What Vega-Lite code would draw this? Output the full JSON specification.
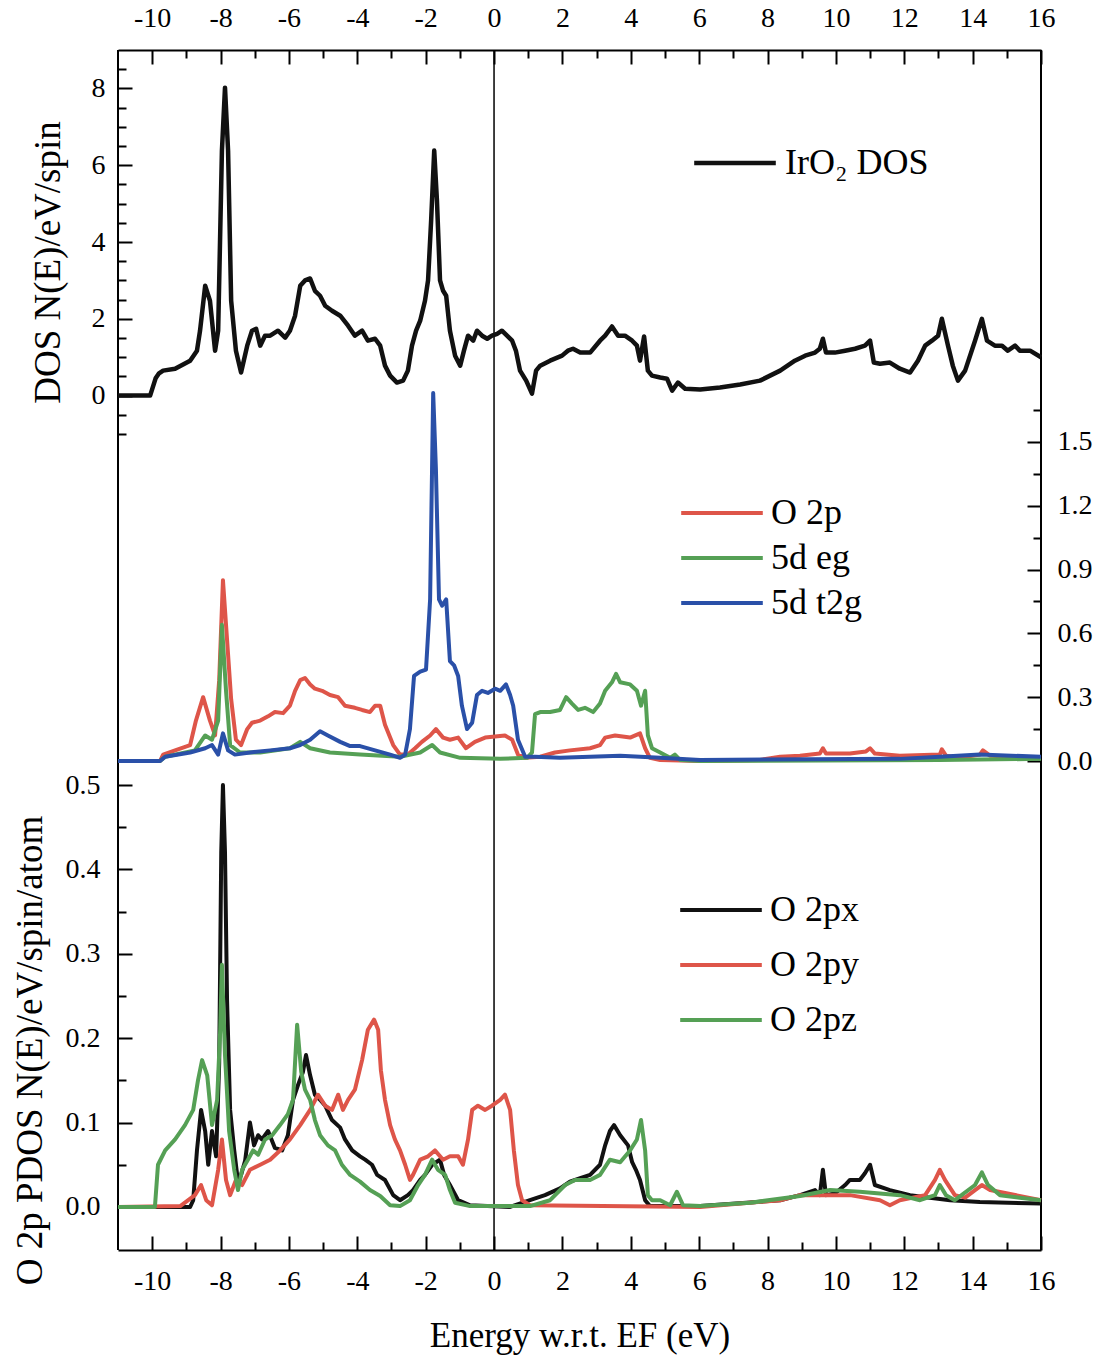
{
"$schema": "https://vega.github.io/schema/vega-lite/v6.json",
"width": 923, "height": 1200,
"autosize": "none",
"padding": {"left": 118, "top": 50, "right": 62, "bottom": 113},
"background": "white",
"config": {
  "view": {"stroke": null},
  "font": "Liberation Serif",
  "axis": {"grid": false, "domainColor": "black", "tickColor": "black", "labelColor": "black", "titleColor": "black",
    "labelFont": "Liberation Serif", "titleFont": "Liberation Serif", "titleFontWeight": "normal",
    "labelFontSize": 28, "titleFontSize": 37, "domainWidth": 2, "tickWidth": 2, "labelOverlap": false, "labelFlush": false},
  "legend": {"labelFont": "Liberation Serif", "labelFontSize": 36, "labelColor": "black", "title": null}
},
"datasets": {
"dos": [
{"E":-11,"N":0},{"E":-10.06,"N":0},{"E":-9.9,"N":0.45},{"E":-9.8,"N":0.58},{"E":-9.68,"N":0.65},{"E":-9.33,"N":0.7},{"E":-8.89,"N":0.91},{"E":-8.69,"N":1.17},{"E":-8.6,"N":1.69},{"E":-8.45,"N":2.86},{"E":-8.31,"N":2.47},{"E":-8.16,"N":1.17},{"E":-8.07,"N":1.69},{"E":-7.96,"N":6.38},{"E":-7.87,"N":8.02},{"E":-7.78,"N":6.38},{"E":-7.69,"N":2.47},{"E":-7.55,"N":1.17},{"E":-7.4,"N":0.6},{"E":-7.22,"N":1.3},{"E":-7.08,"N":1.69},{"E":-6.96,"N":1.74},{"E":-6.84,"N":1.3},{"E":-6.7,"N":1.56},{"E":-6.55,"N":1.56},{"E":-6.32,"N":1.69},{"E":-6.11,"N":1.51},{"E":-5.97,"N":1.69},{"E":-5.82,"N":2.08},{"E":-5.67,"N":2.86},{"E":-5.53,"N":3.0},{"E":-5.38,"N":3.05},{"E":-5.24,"N":2.73},{"E":-5.09,"N":2.6},{"E":-4.94,"N":2.34},{"E":-4.74,"N":2.21},{"E":-4.5,"N":2.08},{"E":-4.27,"N":1.82},{"E":-4.07,"N":1.56},{"E":-3.86,"N":1.69},{"E":-3.69,"N":1.43},{"E":-3.48,"N":1.48},{"E":-3.33,"N":1.3},{"E":-3.19,"N":0.78},{"E":-3.04,"N":0.52},{"E":-2.84,"N":0.34},{"E":-2.66,"N":0.39},{"E":-2.52,"N":0.65},{"E":-2.4,"N":1.3},{"E":-2.28,"N":1.69},{"E":-2.16,"N":1.95},{"E":-2.02,"N":2.47},{"E":-1.93,"N":3.0},{"E":-1.84,"N":4.56},{"E":-1.75,"N":6.38},{"E":-1.67,"N":5.08},{"E":-1.58,"N":3.0},{"E":-1.49,"N":2.73},{"E":-1.4,"N":2.6},{"E":-1.29,"N":1.69},{"E":-1.14,"N":1.04},{"E":-0.99,"N":0.78},{"E":-0.88,"N":1.17},{"E":-0.76,"N":1.56},{"E":-0.61,"N":1.43},{"E":-0.5,"N":1.69},{"E":-0.35,"N":1.56},{"E":-0.2,"N":1.48},{"E":-0.06,"N":1.56},{"E":0.09,"N":1.61},{"E":0.23,"N":1.69},{"E":0.38,"N":1.56},{"E":0.53,"N":1.43},{"E":0.64,"N":1.17},{"E":0.76,"N":0.65},{"E":0.94,"N":0.39},{"E":1.11,"N":0.05},{"E":1.23,"N":0.65},{"E":1.35,"N":0.78},{"E":1.64,"N":0.91},{"E":1.99,"N":1.04},{"E":2.16,"N":1.17},{"E":2.31,"N":1.22},{"E":2.52,"N":1.12},{"E":2.81,"N":1.12},{"E":3.1,"N":1.43},{"E":3.25,"N":1.56},{"E":3.45,"N":1.8},{"E":3.63,"N":1.56},{"E":3.83,"N":1.56},{"E":4.04,"N":1.43},{"E":4.18,"N":1.3},{"E":4.27,"N":0.91},{"E":4.39,"N":1.54},{"E":4.5,"N":0.65},{"E":4.62,"N":0.52},{"E":4.86,"N":0.47},{"E":5.06,"N":0.44},{"E":5.21,"N":0.13},{"E":5.38,"N":0.34},{"E":5.59,"N":0.18},{"E":6.03,"N":0.16},{"E":6.61,"N":0.21},{"E":7.2,"N":0.29},{"E":7.78,"N":0.39},{"E":8.37,"N":0.65},{"E":8.8,"N":0.91},{"E":9.1,"N":1.04},{"E":9.39,"N":1.12},{"E":9.53,"N":1.22},{"E":9.62,"N":1.48},{"E":9.71,"N":1.12},{"E":9.97,"N":1.12},{"E":10.27,"N":1.17},{"E":10.56,"N":1.22},{"E":10.85,"N":1.3},{"E":11.0,"N":1.43},{"E":11.11,"N":0.86},{"E":11.29,"N":0.83},{"E":11.58,"N":0.86},{"E":11.87,"N":0.7},{"E":12.17,"N":0.6},{"E":12.4,"N":0.91},{"E":12.61,"N":1.3},{"E":12.81,"N":1.43},{"E":12.99,"N":1.56},{"E":13.1,"N":2.0},{"E":13.28,"N":1.3},{"E":13.42,"N":0.78},{"E":13.57,"N":0.39},{"E":13.78,"N":0.65},{"E":14.07,"N":1.43},{"E":14.27,"N":2.0},{"E":14.42,"N":1.43},{"E":14.65,"N":1.3},{"E":14.86,"N":1.3},{"E":15.03,"N":1.17},{"E":15.24,"N":1.3},{"E":15.38,"N":1.17},{"E":15.68,"N":1.17},{"E":16,"N":1.0}
],
"mid": [
{"s":"O 2p","E":-11,"v":0},{"s":"O 2p","E":-9.77,"v":0},{"s":"O 2p","E":-9.68,"v":0.03},{"s":"O 2p","E":-9.33,"v":0.05},{"s":"O 2p","E":-8.89,"v":0.075},{"s":"O 2p","E":-8.72,"v":0.19},{"s":"O 2p","E":-8.51,"v":0.3},{"s":"O 2p","E":-8.31,"v":0.19},{"s":"O 2p","E":-8.16,"v":0.12},{"s":"O 2p","E":-8.04,"v":0.38},{"s":"O 2p","E":-7.93,"v":0.85},{"s":"O 2p","E":-7.81,"v":0.57},{"s":"O 2p","E":-7.69,"v":0.29},{"s":"O 2p","E":-7.55,"v":0.1},{"s":"O 2p","E":-7.4,"v":0.075},{"s":"O 2p","E":-7.22,"v":0.15},{"s":"O 2p","E":-7.08,"v":0.18},{"s":"O 2p","E":-6.84,"v":0.19},{"s":"O 2p","E":-6.61,"v":0.21},{"s":"O 2p","E":-6.41,"v":0.23},{"s":"O 2p","E":-6.17,"v":0.225},{"s":"O 2p","E":-5.97,"v":0.26},{"s":"O 2p","E":-5.82,"v":0.33},{"s":"O 2p","E":-5.67,"v":0.38},{"s":"O 2p","E":-5.53,"v":0.39},{"s":"O 2p","E":-5.38,"v":0.36},{"s":"O 2p","E":-5.24,"v":0.34},{"s":"O 2p","E":-5.03,"v":0.33},{"s":"O 2p","E":-4.8,"v":0.31},{"s":"O 2p","E":-4.56,"v":0.3},{"s":"O 2p","E":-4.36,"v":0.26},{"s":"O 2p","E":-4.07,"v":0.25},{"s":"O 2p","E":-3.86,"v":0.24},{"s":"O 2p","E":-3.63,"v":0.23},{"s":"O 2p","E":-3.48,"v":0.26},{"s":"O 2p","E":-3.33,"v":0.26},{"s":"O 2p","E":-3.19,"v":0.17},{"s":"O 2p","E":-2.95,"v":0.075},{"s":"O 2p","E":-2.75,"v":0.03},{"s":"O 2p","E":-2.52,"v":0.03},{"s":"O 2p","E":-2.31,"v":0.06},{"s":"O 2p","E":-2.11,"v":0.09},{"s":"O 2p","E":-1.87,"v":0.12},{"s":"O 2p","E":-1.7,"v":0.15},{"s":"O 2p","E":-1.49,"v":0.11},{"s":"O 2p","E":-1.29,"v":0.1},{"s":"O 2p","E":-1.05,"v":0.11},{"s":"O 2p","E":-0.82,"v":0.06},{"s":"O 2p","E":-0.56,"v":0.09},{"s":"O 2p","E":-0.26,"v":0.11},{"s":"O 2p","E":0.03,"v":0.115},{"s":"O 2p","E":0.32,"v":0.12},{"s":"O 2p","E":0.53,"v":0.1},{"s":"O 2p","E":0.7,"v":0.03},{"s":"O 2p","E":0.91,"v":0.015},{"s":"O 2p","E":1.35,"v":0.02},{"s":"O 2p","E":1.78,"v":0.04},{"s":"O 2p","E":2.22,"v":0.05},{"s":"O 2p","E":2.81,"v":0.06},{"s":"O 2p","E":3.1,"v":0.075},{"s":"O 2p","E":3.25,"v":0.11},{"s":"O 2p","E":3.54,"v":0.12},{"s":"O 2p","E":3.98,"v":0.11},{"s":"O 2p","E":4.27,"v":0.13},{"s":"O 2p","E":4.42,"v":0.06},{"s":"O 2p","E":4.56,"v":0.015},{"s":"O 2p","E":4.86,"v":0.005},{"s":"O 2p","E":6.03,"v":0},{"s":"O 2p","E":7.78,"v":0.005},{"s":"O 2p","E":8.37,"v":0.02},{"s":"O 2p","E":8.95,"v":0.025},{"s":"O 2p","E":9.53,"v":0.035},{"s":"O 2p","E":9.62,"v":0.06},{"s":"O 2p","E":9.71,"v":0.035},{"s":"O 2p","E":10.41,"v":0.035},{"s":"O 2p","E":10.88,"v":0.045},{"s":"O 2p","E":11.0,"v":0.06},{"s":"O 2p","E":11.14,"v":0.035},{"s":"O 2p","E":11.87,"v":0.025},{"s":"O 2p","E":13.04,"v":0.03},{"s":"O 2p","E":13.1,"v":0.055},{"s":"O 2p","E":13.22,"v":0.025},{"s":"O 2p","E":13.63,"v":0.015},{"s":"O 2p","E":14.21,"v":0.03},{"s":"O 2p","E":14.3,"v":0.05},{"s":"O 2p","E":14.51,"v":0.025},{"s":"O 2p","E":16,"v":0.015},
{"s":"5d eg","E":-11,"v":0},{"s":"5d eg","E":-9.77,"v":0},{"s":"5d eg","E":-9.62,"v":0.02},{"s":"5d eg","E":-8.75,"v":0.05},{"s":"5d eg","E":-8.45,"v":0.12},{"s":"5d eg","E":-8.25,"v":0.1},{"s":"5d eg","E":-8.07,"v":0.19},{"s":"5d eg","E":-7.96,"v":0.64},{"s":"5d eg","E":-7.84,"v":0.33},{"s":"5d eg","E":-7.72,"v":0.075},{"s":"5d eg","E":-7.43,"v":0.04},{"s":"5d eg","E":-6.84,"v":0.04},{"s":"5d eg","E":-5.97,"v":0.06},{"s":"5d eg","E":-5.67,"v":0.09},{"s":"5d eg","E":-5.38,"v":0.06},{"s":"5d eg","E":-4.8,"v":0.04},{"s":"5d eg","E":-3.92,"v":0.03},{"s":"5d eg","E":-2.75,"v":0.02},{"s":"5d eg","E":-2.16,"v":0.04},{"s":"5d eg","E":-1.81,"v":0.075},{"s":"5d eg","E":-1.58,"v":0.04},{"s":"5d eg","E":-0.99,"v":0.015},{"s":"5d eg","E":0.18,"v":0.01},{"s":"5d eg","E":0.97,"v":0.015},{"s":"5d eg","E":1.11,"v":0.04},{"s":"5d eg","E":1.2,"v":0.22},{"s":"5d eg","E":1.35,"v":0.23},{"s":"5d eg","E":1.64,"v":0.23},{"s":"5d eg","E":1.93,"v":0.24},{"s":"5d eg","E":2.11,"v":0.3},{"s":"5d eg","E":2.28,"v":0.27},{"s":"5d eg","E":2.46,"v":0.24},{"s":"5d eg","E":2.66,"v":0.25},{"s":"5d eg","E":2.9,"v":0.23},{"s":"5d eg","E":3.1,"v":0.27},{"s":"5d eg","E":3.25,"v":0.33},{"s":"5d eg","E":3.45,"v":0.37},{"s":"5d eg","E":3.57,"v":0.41},{"s":"5d eg","E":3.69,"v":0.37},{"s":"5d eg","E":3.98,"v":0.36},{"s":"5d eg","E":4.18,"v":0.33},{"s":"5d eg","E":4.3,"v":0.26},{"s":"5d eg","E":4.42,"v":0.33},{"s":"5d eg","E":4.5,"v":0.12},{"s":"5d eg","E":4.62,"v":0.06},{"s":"5d eg","E":4.86,"v":0.04},{"s":"5d eg","E":5.15,"v":0.015},{"s":"5d eg","E":5.29,"v":0.03},{"s":"5d eg","E":5.44,"v":0.005},{"s":"5d eg","E":6.03,"v":0},{"s":"5d eg","E":13.04,"v":0.005},{"s":"5d eg","E":16,"v":0.01},
{"s":"5d t2g","E":-11,"v":0},{"s":"5d t2g","E":-9.77,"v":0},{"s":"5d t2g","E":-9.62,"v":0.02},{"s":"5d t2g","E":-8.89,"v":0.04},{"s":"5d t2g","E":-8.45,"v":0.06},{"s":"5d t2g","E":-8.25,"v":0.075},{"s":"5d t2g","E":-8.07,"v":0.03},{"s":"5d t2g","E":-7.93,"v":0.13},{"s":"5d t2g","E":-7.78,"v":0.05},{"s":"5d t2g","E":-7.58,"v":0.03},{"s":"5d t2g","E":-7.14,"v":0.04},{"s":"5d t2g","E":-6.55,"v":0.05},{"s":"5d t2g","E":-5.97,"v":0.06},{"s":"5d t2g","E":-5.67,"v":0.075},{"s":"5d t2g","E":-5.38,"v":0.1},{"s":"5d t2g","E":-5.09,"v":0.14},{"s":"5d t2g","E":-4.86,"v":0.12},{"s":"5d t2g","E":-4.5,"v":0.09},{"s":"5d t2g","E":-4.21,"v":0.07},{"s":"5d t2g","E":-3.92,"v":0.07},{"s":"5d t2g","E":-3.48,"v":0.05},{"s":"5d t2g","E":-3.04,"v":0.03},{"s":"5d t2g","E":-2.75,"v":0.015},{"s":"5d t2g","E":-2.6,"v":0.03},{"s":"5d t2g","E":-2.46,"v":0.15},{"s":"5d t2g","E":-2.34,"v":0.4},{"s":"5d t2g","E":-2.16,"v":0.42},{"s":"5d t2g","E":-1.99,"v":0.43},{"s":"5d t2g","E":-1.87,"v":0.76},{"s":"5d t2g","E":-1.78,"v":1.73},{"s":"5d t2g","E":-1.7,"v":1.37},{"s":"5d t2g","E":-1.61,"v":0.76},{"s":"5d t2g","E":-1.52,"v":0.73},{"s":"5d t2g","E":-1.4,"v":0.76},{"s":"5d t2g","E":-1.29,"v":0.47},{"s":"5d t2g","E":-1.17,"v":0.45},{"s":"5d t2g","E":-1.05,"v":0.4},{"s":"5d t2g","E":-0.94,"v":0.26},{"s":"5d t2g","E":-0.79,"v":0.15},{"s":"5d t2g","E":-0.64,"v":0.18},{"s":"5d t2g","E":-0.5,"v":0.31},{"s":"5d t2g","E":-0.35,"v":0.33},{"s":"5d t2g","E":-0.18,"v":0.32},{"s":"5d t2g","E":0.03,"v":0.34},{"s":"5d t2g","E":0.18,"v":0.33},{"s":"5d t2g","E":0.35,"v":0.36},{"s":"5d t2g","E":0.47,"v":0.31},{"s":"5d t2g","E":0.56,"v":0.26},{"s":"5d t2g","E":0.7,"v":0.1},{"s":"5d t2g","E":0.91,"v":0.02},{"s":"5d t2g","E":1.2,"v":0.02},{"s":"5d t2g","E":1.93,"v":0.015},{"s":"5d t2g","E":3.69,"v":0.025},{"s":"5d t2g","E":4.86,"v":0.015},{"s":"5d t2g","E":6.03,"v":0.005},{"s":"5d t2g","E":11.87,"v":0.01},{"s":"5d t2g","E":13.04,"v":0.02},{"s":"5d t2g","E":14.21,"v":0.03},{"s":"5d t2g","E":16,"v":0.02}
],
"pdos": [
{"s":"O 2px","E":-11,"v":0},{"s":"O 2px","E":-8.89,"v":0},{"s":"O 2px","E":-8.8,"v":0.008},{"s":"O 2px","E":-8.69,"v":0.067},{"s":"O 2px","E":-8.57,"v":0.115},{"s":"O 2px","E":-8.45,"v":0.09},{"s":"O 2px","E":-8.36,"v":0.05},{"s":"O 2px","E":-8.25,"v":0.09},{"s":"O 2px","E":-8.13,"v":0.06},{"s":"O 2px","E":-8.04,"v":0.17},{"s":"O 2px","E":-7.98,"v":0.42},{"s":"O 2px","E":-7.93,"v":0.5},{"s":"O 2px","E":-7.87,"v":0.42},{"s":"O 2px","E":-7.81,"v":0.245},{"s":"O 2px","E":-7.72,"v":0.115},{"s":"O 2px","E":-7.6,"v":0.067},{"s":"O 2px","E":-7.49,"v":0.03},{"s":"O 2px","E":-7.4,"v":0.038},{"s":"O 2px","E":-7.28,"v":0.055},{"s":"O 2px","E":-7.14,"v":0.1},{"s":"O 2px","E":-7.02,"v":0.073},{"s":"O 2px","E":-6.9,"v":0.085},{"s":"O 2px","E":-6.79,"v":0.08},{"s":"O 2px","E":-6.61,"v":0.09},{"s":"O 2px","E":-6.41,"v":0.07},{"s":"O 2px","E":-6.2,"v":0.067},{"s":"O 2px","E":-6.03,"v":0.085},{"s":"O 2px","E":-5.88,"v":0.127},{"s":"O 2px","E":-5.73,"v":0.145},{"s":"O 2px","E":-5.59,"v":0.16},{"s":"O 2px","E":-5.5,"v":0.18},{"s":"O 2px","E":-5.38,"v":0.156},{"s":"O 2px","E":-5.24,"v":0.133},{"s":"O 2px","E":-5.09,"v":0.127},{"s":"O 2px","E":-4.94,"v":0.12},{"s":"O 2px","E":-4.74,"v":0.103},{"s":"O 2px","E":-4.5,"v":0.094},{"s":"O 2px","E":-4.36,"v":0.08},{"s":"O 2px","E":-4.15,"v":0.067},{"s":"O 2px","E":-3.92,"v":0.06},{"s":"O 2px","E":-3.77,"v":0.056},{"s":"O 2px","E":-3.57,"v":0.05},{"s":"O 2px","E":-3.42,"v":0.038},{"s":"O 2px","E":-3.19,"v":0.032},{"s":"O 2px","E":-2.95,"v":0.014},{"s":"O 2px","E":-2.75,"v":0.008},{"s":"O 2px","E":-2.52,"v":0.014},{"s":"O 2px","E":-2.37,"v":0.02},{"s":"O 2px","E":-2.16,"v":0.032},{"s":"O 2px","E":-2.02,"v":0.038},{"s":"O 2px","E":-1.81,"v":0.05},{"s":"O 2px","E":-1.58,"v":0.056},{"s":"O 2px","E":-1.46,"v":0.038},{"s":"O 2px","E":-1.29,"v":0.026},{"s":"O 2px","E":-1.05,"v":0.008},{"s":"O 2px","E":-0.7,"v":0.002},{"s":"O 2px","E":0.47,"v":0},{"s":"O 2px","E":1.05,"v":0.008},{"s":"O 2px","E":1.49,"v":0.014},{"s":"O 2px","E":1.93,"v":0.022},{"s":"O 2px","E":2.22,"v":0.03},{"s":"O 2px","E":2.52,"v":0.034},{"s":"O 2px","E":2.81,"v":0.038},{"s":"O 2px","E":3.1,"v":0.05},{"s":"O 2px","E":3.25,"v":0.073},{"s":"O 2px","E":3.39,"v":0.09},{"s":"O 2px","E":3.51,"v":0.097},{"s":"O 2px","E":3.69,"v":0.085},{"s":"O 2px","E":3.92,"v":0.073},{"s":"O 2px","E":4.04,"v":0.053},{"s":"O 2px","E":4.15,"v":0.044},{"s":"O 2px","E":4.27,"v":0.032},{"s":"O 2px","E":4.42,"v":0.008},{"s":"O 2px","E":4.56,"v":0.001},{"s":"O 2px","E":6.03,"v":0.001},{"s":"O 2px","E":8.37,"v":0.008},{"s":"O 2px","E":8.95,"v":0.014},{"s":"O 2px","E":9.39,"v":0.02},{"s":"O 2px","E":9.53,"v":0.014},{"s":"O 2px","E":9.62,"v":0.044},{"s":"O 2px","E":9.71,"v":0.014},{"s":"O 2px","E":9.97,"v":0.016},{"s":"O 2px","E":10.27,"v":0.026},{"s":"O 2px","E":10.41,"v":0.032},{"s":"O 2px","E":10.7,"v":0.032},{"s":"O 2px","E":10.85,"v":0.04},{"s":"O 2px","E":11.0,"v":0.05},{"s":"O 2px","E":11.14,"v":0.026},{"s":"O 2px","E":11.58,"v":0.02},{"s":"O 2px","E":12.17,"v":0.014},{"s":"O 2px","E":12.75,"v":0.011},{"s":"O 2px","E":13.34,"v":0.008},{"s":"O 2px","E":14.21,"v":0.006},{"s":"O 2px","E":16,"v":0.004},
{"s":"O 2py","E":-11,"v":0},{"s":"O 2py","E":-9.18,"v":0.001},{"s":"O 2py","E":-8.75,"v":0.014},{"s":"O 2py","E":-8.57,"v":0.026},{"s":"O 2py","E":-8.42,"v":0.008},{"s":"O 2py","E":-8.25,"v":0.002},{"s":"O 2py","E":-8.07,"v":0.044},{"s":"O 2py","E":-7.96,"v":0.08},{"s":"O 2py","E":-7.84,"v":0.032},{"s":"O 2py","E":-7.72,"v":0.014},{"s":"O 2py","E":-7.55,"v":0.032},{"s":"O 2py","E":-7.37,"v":0.026},{"s":"O 2py","E":-7.14,"v":0.044},{"s":"O 2py","E":-6.84,"v":0.05},{"s":"O 2py","E":-6.55,"v":0.056},{"s":"O 2py","E":-6.26,"v":0.067},{"s":"O 2py","E":-5.97,"v":0.08},{"s":"O 2py","E":-5.67,"v":0.097},{"s":"O 2py","E":-5.38,"v":0.115},{"s":"O 2py","E":-5.15,"v":0.133},{"s":"O 2py","E":-4.94,"v":0.12},{"s":"O 2py","E":-4.74,"v":0.115},{"s":"O 2py","E":-4.56,"v":0.133},{"s":"O 2py","E":-4.42,"v":0.115},{"s":"O 2py","E":-4.27,"v":0.127},{"s":"O 2py","E":-4.07,"v":0.139},{"s":"O 2py","E":-3.86,"v":0.174},{"s":"O 2py","E":-3.69,"v":0.21},{"s":"O 2py","E":-3.51,"v":0.222},{"s":"O 2py","E":-3.39,"v":0.21},{"s":"O 2py","E":-3.31,"v":0.162},{"s":"O 2py","E":-3.19,"v":0.127},{"s":"O 2py","E":-3.04,"v":0.097},{"s":"O 2py","E":-2.9,"v":0.08},{"s":"O 2py","E":-2.75,"v":0.067},{"s":"O 2py","E":-2.6,"v":0.05},{"s":"O 2py","E":-2.46,"v":0.032},{"s":"O 2py","E":-2.37,"v":0.038},{"s":"O 2py","E":-2.16,"v":0.056},{"s":"O 2py","E":-1.93,"v":0.06},{"s":"O 2py","E":-1.73,"v":0.067},{"s":"O 2py","E":-1.49,"v":0.056},{"s":"O 2py","E":-1.29,"v":0.06},{"s":"O 2py","E":-1.05,"v":0.06},{"s":"O 2py","E":-0.91,"v":0.05},{"s":"O 2py","E":-0.76,"v":0.08},{"s":"O 2py","E":-0.64,"v":0.115},{"s":"O 2py","E":-0.47,"v":0.12},{"s":"O 2py","E":-0.26,"v":0.115},{"s":"O 2py","E":-0.06,"v":0.12},{"s":"O 2py","E":0.18,"v":0.127},{"s":"O 2py","E":0.32,"v":0.133},{"s":"O 2py","E":0.47,"v":0.115},{"s":"O 2py","E":0.58,"v":0.067},{"s":"O 2py","E":0.7,"v":0.026},{"s":"O 2py","E":0.82,"v":0.008},{"s":"O 2py","E":1.05,"v":0.002},{"s":"O 2py","E":6.03,"v":0},{"s":"O 2py","E":8.37,"v":0.008},{"s":"O 2py","E":8.95,"v":0.014},{"s":"O 2py","E":10.41,"v":0.014},{"s":"O 2py","E":11.29,"v":0.008},{"s":"O 2py","E":11.58,"v":0.002},{"s":"O 2py","E":11.87,"v":0.008},{"s":"O 2py","E":12.61,"v":0.014},{"s":"O 2py","E":12.9,"v":0.032},{"s":"O 2py","E":13.04,"v":0.044},{"s":"O 2py","E":13.19,"v":0.032},{"s":"O 2py","E":13.48,"v":0.014},{"s":"O 2py","E":13.78,"v":0.011},{"s":"O 2py","E":14.07,"v":0.02},{"s":"O 2py","E":14.27,"v":0.026},{"s":"O 2py","E":14.51,"v":0.02},{"s":"O 2py","E":16,"v":0.008},
{"s":"O 2pz","E":-11,"v":0},{"s":"O 2pz","E":-9.92,"v":0},{"s":"O 2pz","E":-9.83,"v":0.05},{"s":"O 2pz","E":-9.62,"v":0.067},{"s":"O 2pz","E":-9.33,"v":0.08},{"s":"O 2pz","E":-9.04,"v":0.097},{"s":"O 2pz","E":-8.8,"v":0.115},{"s":"O 2pz","E":-8.66,"v":0.15},{"s":"O 2pz","E":-8.54,"v":0.174},{"s":"O 2pz","E":-8.39,"v":0.156},{"s":"O 2pz","E":-8.25,"v":0.097},{"s":"O 2pz","E":-8.1,"v":0.127},{"s":"O 2pz","E":-8.01,"v":0.21},{"s":"O 2pz","E":-7.96,"v":0.287},{"s":"O 2pz","E":-7.87,"v":0.18},{"s":"O 2pz","E":-7.75,"v":0.09},{"s":"O 2pz","E":-7.6,"v":0.044},{"s":"O 2pz","E":-7.49,"v":0.02},{"s":"O 2pz","E":-7.37,"v":0.044},{"s":"O 2pz","E":-7.2,"v":0.056},{"s":"O 2pz","E":-7.05,"v":0.067},{"s":"O 2pz","E":-6.9,"v":0.062},{"s":"O 2pz","E":-6.7,"v":0.08},{"s":"O 2pz","E":-6.49,"v":0.085},{"s":"O 2pz","E":-6.26,"v":0.097},{"s":"O 2pz","E":-6.03,"v":0.11},{"s":"O 2pz","E":-5.88,"v":0.127},{"s":"O 2pz","E":-5.76,"v":0.216},{"s":"O 2pz","E":-5.64,"v":0.16},{"s":"O 2pz","E":-5.53,"v":0.139},{"s":"O 2pz","E":-5.38,"v":0.127},{"s":"O 2pz","E":-5.24,"v":0.103},{"s":"O 2pz","E":-5.09,"v":0.085},{"s":"O 2pz","E":-4.86,"v":0.073},{"s":"O 2pz","E":-4.65,"v":0.067},{"s":"O 2pz","E":-4.45,"v":0.05},{"s":"O 2pz","E":-4.21,"v":0.038},{"s":"O 2pz","E":-3.92,"v":0.03},{"s":"O 2pz","E":-3.63,"v":0.02},{"s":"O 2pz","E":-3.33,"v":0.013},{"s":"O 2pz","E":-3.04,"v":0.002},{"s":"O 2pz","E":-2.75,"v":0.001},{"s":"O 2pz","E":-2.46,"v":0.008},{"s":"O 2pz","E":-2.22,"v":0.026},{"s":"O 2pz","E":-2.02,"v":0.038},{"s":"O 2pz","E":-1.81,"v":0.056},{"s":"O 2pz","E":-1.64,"v":0.044},{"s":"O 2pz","E":-1.43,"v":0.038},{"s":"O 2pz","E":-1.29,"v":0.02},{"s":"O 2pz","E":-1.14,"v":0.005},{"s":"O 2pz","E":-0.7,"v":0.001},{"s":"O 2pz","E":1.05,"v":0.001},{"s":"O 2pz","E":1.64,"v":0.008},{"s":"O 2pz","E":2.08,"v":0.026},{"s":"O 2pz","E":2.37,"v":0.032},{"s":"O 2pz","E":2.81,"v":0.032},{"s":"O 2pz","E":3.1,"v":0.038},{"s":"O 2pz","E":3.39,"v":0.056},{"s":"O 2pz","E":3.69,"v":0.053},{"s":"O 2pz","E":3.98,"v":0.067},{"s":"O 2pz","E":4.18,"v":0.08},{"s":"O 2pz","E":4.3,"v":0.103},{"s":"O 2pz","E":4.42,"v":0.067},{"s":"O 2pz","E":4.5,"v":0.014},{"s":"O 2pz","E":4.62,"v":0.008},{"s":"O 2pz","E":4.86,"v":0.008},{"s":"O 2pz","E":5.15,"v":0.002},{"s":"O 2pz","E":5.35,"v":0.018},{"s":"O 2pz","E":5.53,"v":0.002},{"s":"O 2pz","E":6.03,"v":0.001},{"s":"O 2pz","E":7.49,"v":0.005},{"s":"O 2pz","E":8.95,"v":0.013},{"s":"O 2pz","E":9.83,"v":0.02},{"s":"O 2pz","E":10.7,"v":0.018},{"s":"O 2pz","E":11.87,"v":0.014},{"s":"O 2pz","E":12.46,"v":0.008},{"s":"O 2pz","E":12.9,"v":0.014},{"s":"O 2pz","E":13.04,"v":0.026},{"s":"O 2pz","E":13.22,"v":0.014},{"s":"O 2pz","E":13.48,"v":0.008},{"s":"O 2pz","E":14.07,"v":0.026},{"s":"O 2pz","E":14.27,"v":0.041},{"s":"O 2pz","E":14.45,"v":0.026},{"s":"O 2pz","E":14.8,"v":0.014},{"s":"O 2pz","E":15.38,"v":0.011},{"s":"O 2pz","E":16,"v":0.008}
]
},
"layer": [
{"data": {"values": [{}]},
 "mark": {"type": "rule", "color": "black", "strokeWidth": 1.5},
 "encoding": {"x": {"datum": 0, "type": "quantitative", "scale": {"domain": [-11, 16], "nice": false, "zero": false}, "axis": null}}},
{"data": {"values": [{}]},
 "mark": {"type": "rule", "color": "black", "strokeWidth": 2},
 "encoding": {"x": {"datum": -11, "type": "quantitative", "axis": null}}},
{"data": {"values": [{}]},
 "mark": {"type": "rule", "color": "black", "strokeWidth": 2},
 "encoding": {"x": {"datum": 16, "type": "quantitative", "axis": null}}},
{"data": {"name": "dos"},
 "mark": {"type": "line", "strokeWidth": 4.5, "strokeJoin": "round"},
 "encoding": {
  "x": {"field": "E", "type": "quantitative", "scale": {"domain": [-11, 16], "nice": false, "zero": false},
    "axis": {"orient": "top", "title": null, "values": [-10,-9,-8,-7,-6,-5,-4,-3,-2,-1,0,1,2,3,4,5,6,7,8,9,10,11,12,13,14,15,16],
      "labelExpr": "datum.value % 2 == 0 ? (datum.value < 0 ? '-' + abs(datum.value) : '' + datum.value) : ''",
      "tickSize": {"condition": {"test": "datum.value % 2 == 0", "value": -14}, "value": -8},
      "labelPadding": 32}},
  "y": {"field": "N", "type": "quantitative", "scale": {"domain": [-1, 9], "range": [384, 0], "nice": false, "zero": false},
    "axis": {"orient": "left", "domain": false, "title": "DOS N(E)/eV/spin", "titleX": -70, "titleY": 212, "titleBaseline": "middle",
      "values": [-1,-0.5,0,0.5,1,1.5,2,2.5,3,3.5,4,4.5,5,5.5,6,6.5,7,7.5,8,8.5],
      "labelExpr": "datum.value >= 0 && datum.value % 2 == 0 ? '' + datum.value : ''",
      "tickSize": {"condition": {"test": "datum.value % 2 == 0", "value": -14}, "value": -8},
      "labelPadding": 27}},
  "color": {"datum": "IrO₂ DOS", "type": "nominal", "scale": {"domain": ["IrO₂ DOS"], "range": ["#111111"]},
    "legend": {"orient": "none", "legendX": 599, "legendY": 95, "symbolType": "M-3,0H3", "symbolSize": 740, "symbolStrokeWidth": 4.5, "labelOffset": 32, "padding": 0}}
 }},
{"data": {"name": "mid"},
 "mark": {"type": "line", "strokeWidth": 4, "strokeJoin": "round"},
 "encoding": {
  "x": {"field": "E", "type": "quantitative", "scale": {"domain": [-11, 16], "nice": false, "zero": false}, "axis": null},
  "y": {"field": "v", "type": "quantitative", "scale": {"domain": [0, 1.65], "range": [711, 360], "nice": false, "zero": false},
    "axis": {"orient": "right", "domain": false, "title": null,
      "values": [0,0.15,0.3,0.45,0.6,0.75,0.9,1.05,1.2,1.35,1.5,1.65],
      "labelExpr": "abs(datum.value/0.3 - round(datum.value/0.3)) < 0.01 ? format(datum.value, '.1f') : ''",
      "tickSize": {"condition": {"test": "abs(datum.value/0.3 - round(datum.value/0.3)) < 0.01", "value": -14}, "value": -8},
      "labelPadding": 30}},
  "color": {"field": "s", "type": "nominal", "sort": ["O 2p", "5d eg", "5d t2g"], "scale": {"domain": ["O 2p", "5d eg", "5d t2g"], "range": ["#de5549", "#55a055", "#2a50a8"]},
    "legend": {"orient": "none", "legendX": 586, "legendY": 445, "symbolType": "M-3,0H3", "symbolSize": 740, "symbolStrokeWidth": 4, "labelOffset": 31, "padding": 0, "rowPadding": 9}}
 }},
{"data": {"name": "pdos"},
 "mark": {"type": "line", "strokeWidth": 4, "strokeJoin": "round"},
 "encoding": {
  "x": {"field": "E", "type": "quantitative", "scale": {"domain": [-11, 16], "nice": false, "zero": false},
    "axis": {"orient": "bottom", "title": "Energy w.r.t. EF (eV)", "titleFontSize": 35, "titleY": 85, "titleBaseline": "middle",
      "values": [-10,-9,-8,-7,-6,-5,-4,-3,-2,-1,0,1,2,3,4,5,6,7,8,9,10,11,12,13,14,15,16],
      "labelExpr": "datum.value % 2 == 0 ? (datum.value < 0 ? '-' + abs(datum.value) : '' + datum.value) : ''",
      "tickSize": {"condition": {"test": "datum.value % 2 == 0", "value": -14}, "value": -8},
      "labelPadding": 31}},
  "y": {"field": "v", "type": "quantitative", "scale": {"domain": [-0.051, 0.5], "range": [1200, 735], "nice": false, "zero": false},
    "axis": {"orient": "left", "domain": false, "title": "O 2p PDOS N(E)/eV/spin/atom", "titleX": -88, "titleY": 1000, "titleBaseline": "middle",
      "values": [0,0.05,0.1,0.15,0.2,0.25,0.3,0.35,0.4,0.45,0.5],
      "labelExpr": "abs(datum.value/0.1 - round(datum.value/0.1)) < 0.01 ? format(datum.value, '.1f') : ''",
      "tickSize": {"condition": {"test": "abs(datum.value/0.1 - round(datum.value/0.1)) < 0.01", "value": -14}, "value": -8},
      "labelPadding": 32}},
  "color": {"field": "s", "type": "nominal", "sort": ["O 2px", "O 2py", "O 2pz"], "scale": {"domain": ["O 2px", "O 2py", "O 2pz"], "range": ["#111111", "#de5549", "#55a055"]},
    "legend": {"orient": "none", "legendX": 585, "legendY": 842, "symbolType": "M-3,0H3", "symbolSize": 740, "symbolStrokeWidth": 4, "labelOffset": 31, "padding": 0, "rowPadding": 19}}
 }}
],
"resolve": {"scale": {"y": "independent", "color": "independent"}, "axis": {"y": "independent", "x": "independent"}, "legend": {"color": "independent"}}
}
